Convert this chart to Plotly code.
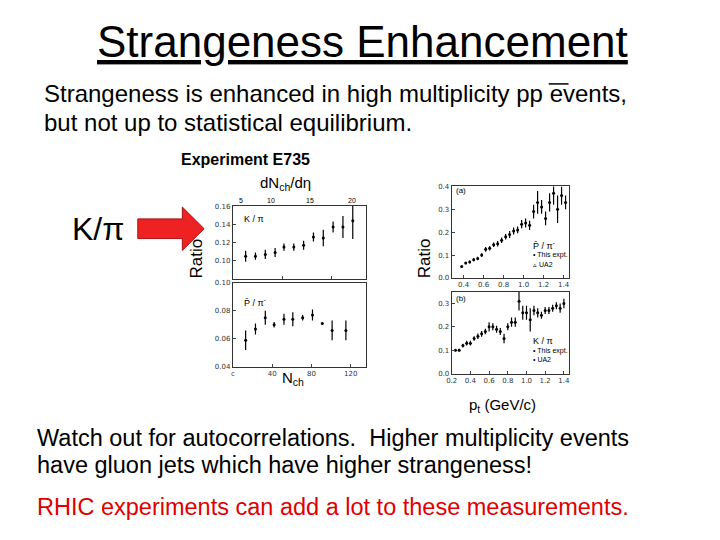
import plotly.graph_objects as go

# Left panels (E735 vs Nch)
nch_k = [13, 23, 33, 43, 52, 62, 72, 82, 92, 102, 112, 122]
kpi_n = [0.105, 0.105, 0.107, 0.109, 0.115, 0.115, 0.117, 0.126, 0.125, 0.137, 0.137, 0.144]
kpi_n_err = [0.006, 0.004, 0.005, 0.005, 0.004, 0.004, 0.005, 0.005, 0.009, 0.006, 0.012, 0.02]
nch_p = [13, 23, 33, 42, 52, 61, 71, 81, 91, 101, 115]
ppi_n = [0.059, 0.067, 0.075, 0.070, 0.074, 0.074, 0.075, 0.077, 0.071, 0.066, 0.066]
ppi_n_err = [0.007, 0.004, 0.005, 0.002, 0.004, 0.005, 0.002, 0.004, 0.001, 0.007, 0.007]

# Right panels (vs pt)
pt_p = [0.38, 0.42, 0.46, 0.50, 0.54, 0.58, 0.62, 0.66, 0.70, 0.74, 0.78, 0.82, 0.86, 0.90,
        0.94, 0.98, 1.02, 1.06, 1.10, 1.14, 1.18, 1.22, 1.26, 1.30, 1.34, 1.38, 1.42]
ppi_pt = [0.05, 0.065, 0.07, 0.08, 0.085, 0.10, 0.125, 0.13, 0.145, 0.15, 0.165, 0.18, 0.19, 0.205,
          0.21, 0.235, 0.24, 0.23, 0.29, 0.33, 0.31, 0.26, 0.33, 0.37, 0.30, 0.36, 0.33]
ppi_pt_err = [0.005, 0.005, 0.006, 0.007, 0.008, 0.008, 0.01, 0.01, 0.01, 0.012, 0.012, 0.012, 0.015, 0.015,
              0.015, 0.018, 0.02, 0.02, 0.03, 0.05, 0.03, 0.03, 0.04, 0.05, 0.06, 0.04, 0.03]
pt_k = [0.24, 0.28, 0.32, 0.36, 0.40, 0.44, 0.48, 0.52, 0.56, 0.60, 0.64, 0.68, 0.72, 0.76, 0.80,
        0.84, 0.88, 0.92, 0.96, 1.00, 1.04, 1.08, 1.12, 1.16, 1.20, 1.24, 1.28, 1.32, 1.36, 1.40]
kpi_pt = [0.10, 0.10, 0.12, 0.13, 0.13, 0.15, 0.16, 0.17, 0.18, 0.20, 0.20, 0.19, 0.18, 0.15, 0.20,
          0.22, 0.22, 0.31, 0.26, 0.26, 0.23, 0.27, 0.26, 0.25, 0.27, 0.27, 0.28, 0.29, 0.28, 0.30]
kpi_pt_err = [0.005, 0.006, 0.008, 0.01, 0.01, 0.01, 0.012, 0.012, 0.012, 0.02, 0.015, 0.015, 0.015, 0.02, 0.015,
              0.02, 0.02, 0.04, 0.03, 0.03, 0.05, 0.02, 0.02, 0.015, 0.015, 0.015, 0.015, 0.015, 0.02, 0.02]

OX, OY = 8, 8
def px(x): return (x - OX) / 720
def py(y): return 1 - (y - OY) / 540
def dx(a, b): return [px(a), px(b)]
def dy(top, bot): return [py(bot), py(top)]

fig = go.Figure()
def add(x, y, e, xa, ya):
    fig.add_trace(go.Scatter(x=x, y=y, mode="markers", xaxis=xa, yaxis=ya,
                             marker=dict(color="black", size=3),
                             error_y=dict(type="data", array=e, color="black", thickness=1.2, width=0),
                             showlegend=False))
add(nch_k, kpi_n, kpi_n_err, "x", "y")
add(nch_p, ppi_n, ppi_n_err, "x2", "y2")
add(pt_p, ppi_pt, ppi_pt_err, "x3", "y3")
add(pt_k, kpi_pt, kpi_pt_err, "x4", "y4")

ax = dict(showgrid=False, zeroline=False, showline=True, mirror=True, linecolor="#333",
          ticks="inside", ticklen=3, tickfont=dict(size=7, color="#333", family="DejaVu Sans"))
fig.update_layout(
    width=720, height=540, margin=dict(l=0, r=0, t=0, b=0),
    paper_bgcolor="white", plot_bgcolor="white",
    xaxis=dict(ax, domain=dx(229, 363), range=[0, 135], anchor="y", showticklabels=False),
    yaxis=dict(ax, domain=dy(205, 279), range=[0.08, 0.16], tickvals=[0.10, 0.12, 0.14, 0.16], tickformat=".2f", anchor="x"),
    xaxis2=dict(ax, domain=dx(229, 363), range=[0, 135], anchor="y2", tickvals=[0, 40, 80, 120], ticktext=["c", "40", "80", "120"]),
    yaxis2=dict(ax, domain=dy(283, 368), range=[0.04, 0.10], dtick=0.02, tickformat=".2f", anchor="x2"),
    xaxis3=dict(ax, domain=dx(450, 568), range=[0.28, 1.45], anchor="y3", tickvals=[0.4, 0.6, 0.8, 1.0, 1.2, 1.4], tickformat=".1f"),
    yaxis3=dict(ax, domain=dy(185, 278), range=[0, 0.4], dtick=0.1, tickformat=".1f", anchor="x3"),
    xaxis4=dict(ax, domain=dx(450, 568), range=[0.2, 1.45], anchor="y4", tickvals=[0.2, 0.4, 0.6, 0.8, 1.0, 1.2, 1.4], tickformat=".1f"),
    yaxis4=dict(ax, domain=dy(292, 375), range=[0, 0.35], dtick=0.1, tickformat=".1f", anchor="x4"),
    font=dict(family="Liberation Sans, Arial", color="black"),
)

def t(x, y, s, size, color="black", xanchor="left", angle=0):
    if xanchor == "left":
        x -= 8
    fig.add_annotation(x=px(x), y=py(y), xref="paper", yref="paper", text=s, showarrow=False,
                       xanchor=xanchor, yanchor="middle", textangle=angle,
                       font=dict(size=size, color=color, family="Liberation Sans, Arial"))

t(360, 38, "<u>Strangeness Enhancement</u>", 44, xanchor="center")
t(44, 91, "Strangeness is enhanced in high multiplicity pp events,", 24)
t(44, 120, "but not up to statistical equilibrium.", 24)
t(183, 158, "<b>Experiment E735</b>", 16)
t(262, 182, "dN<sub>ch</sub>/dη", 15)
t(73, 228, "K/π", 32)
t(192, 258, "Ratio", 17, xanchor="center", angle=-90)
t(422, 258, "Ratio", 17, xanchor="center", angle=-90)
t(285, 380, "N<sub>ch</sub>", 15)
t(473, 407, "p<sub>t</sub> (GeV/c)", 15)
t(37, 440, "Watch out for autocorrelations.  Higher multiplicity events", 23.5)
t(37, 468, "have gluon jets which have higher strangeness!", 23.5)
t(37, 510, "RHIC experiments can add a lot to these measurements.", 23.5, color="#e00000")
# small in-plot labels
t(246, 218, "K / π", 9)
t(246, 302, "P̄ / π<sup>-</sup>", 9)
t(460, 189, "(a)", 8)
t(460, 299, "(b)", 8)
t(538, 245, "P̄ / π<sup>-</sup>", 9)
t(538, 255, "• This expt.", 7)
t(538, 264, "▵ UA2", 7)
t(538, 342, "K / π", 9)
t(538, 352, "• This expt.", 7)
t(538, 361, "• UA2", 7)
for xp, s in [(237, "5"), (268, "10"), (307, "15"), (349, "20")]:
    t(xp, 199, s, 7, xanchor="center")

fig.add_shape(type="line", xref="paper", yref="paper", x0=px(548), x1=px(568), y0=py(81), y1=py(81),
              line=dict(color="black", width=1.5))
fig.add_shape(type="path", xref="paper", yref="paper",
              path=f"M {px(133)},{py(218)} L {px(178)},{py(218)} L {px(178)},{py(206)} L {px(200)},{py(228)} "
                   f"L {px(178)},{py(250)} L {px(178)},{py(238)} L {px(133)},{py(238)} Z",
              fillcolor="#ee2222", line=dict(color="#aa1111", width=1))

fig.write_html("out.html")
